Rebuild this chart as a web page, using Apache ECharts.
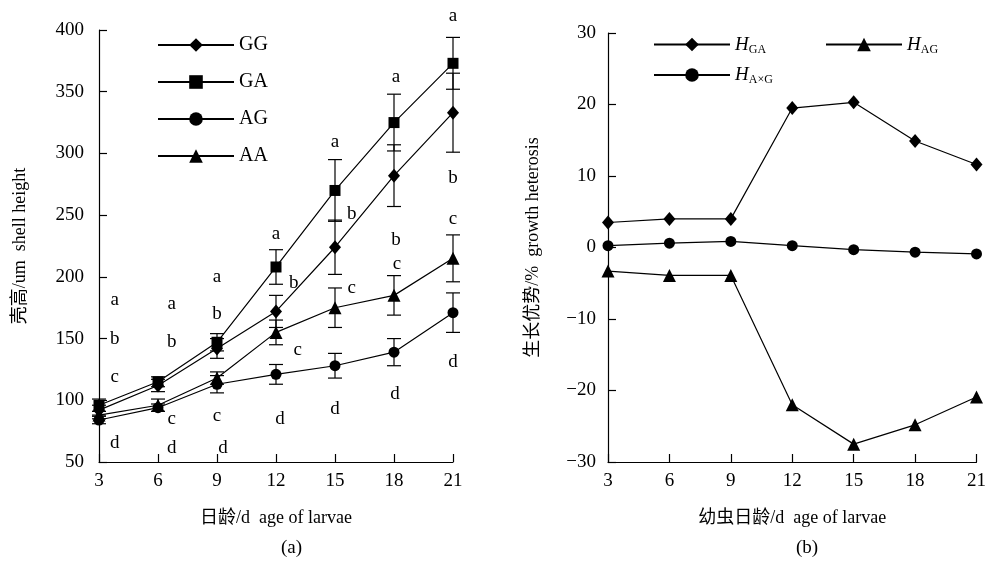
<!DOCTYPE html>
<html><head><meta charset="utf-8">
<script src="https://cdn.jsdelivr.net/npm/echarts@6/dist/echarts.min.js"></script>
<style>html,body{margin:0;padding:0;background:#fff}#c{width:989px;height:561px}</style>
</head><body><div id="c"></div>
<script>
const days = [3, 6, 9, 12, 15, 18, 21];
const GG = [92, 112, 142, 172, 224, 282, 333];
const GA = [96, 115, 147, 208, 270, 325, 373];
const AG = [84, 94, 113, 121, 128, 139, 171];
const AA = [88, 96, 118, 155, 175, 185, 215];
const errGG = [4, 5, 8, 13, 22, 25, 32];
const errGA = [5, 4, 7, 14, 25, 23, 21];
const errAG = [3, 3, 7, 8, 10, 11, 16];
const errAA = [3, 5, 5, 10, 16, 16, 19];
const HGA = [3.5, 4.0, 4.0, 19.5, 20.3, 14.9, 11.6];
const HAG = [-3.3, -3.9, -3.9, -22.0, -27.5, -24.8, -20.9];
const HAxG = [0.25, 0.6, 0.85, 0.25, -0.3, -0.65, -0.9];
const letterX = [3.8,3.8,3.8,3.8, 6.7,6.7,6.7,6.7, 9,9,9,9.3, 12,12.9,13.1,12.2, 15,15.85,15.85,15, 18.1,18.1,18.15,18.05, 21,21,21,21];
const letterY = [181,150,119,65, 178,147,85,61, 200,170,87,61, 235,195,141,85, 309,251,191,93, 362,230,210,105, 411,280,247,131];
const letterT = ['a','b','c','d','a','b','c','d','a','b','c','d','a','b','c','d','a','b','c','d','a','b','c','d','a','b','c','d'];
const yTicksLeft = [50, 400, 50];   // min, max, interval
const yTicksRight = [-30, 30, 10];

const FONT = "'Liberation Serif', 'Noto Sans CJK SC', serif";
const chart = echarts.init(document.getElementById('c'));
const zip = (a) => days.map((d, i) => [d, a[i]]);
const errData = (a, e) => days.map((d, i) => [d, a[i] - e[i], a[i] + e[i]]);

function errSeries(name, a, e) {
  return {
    type: 'custom', name: name + '_err', xAxisIndex: 0, yAxisIndex: 0, silent: true, z: 1,
    data: errData(a, e),
    renderItem: function (params, api) {
      const lo = api.coord([api.value(0), api.value(1)]);
      const hi = api.coord([api.value(0), api.value(2)]);
      const w = 7;
      const st = { stroke: '#000', lineWidth: 1.2 };
      return { type: 'group', children: [
        { type: 'line', shape: { x1: lo[0], y1: lo[1], x2: hi[0], y2: hi[1] }, style: st },
        { type: 'line', shape: { x1: lo[0] - w, y1: lo[1], x2: lo[0] + w, y2: lo[1] }, style: st },
        { type: 'line', shape: { x1: hi[0] - w, y1: hi[1], x2: hi[0] + w, y2: hi[1] }, style: st }
      ]};
    }
  };
}
function lineSeries(name, a, sym, size, xi) {
  return {
    type: 'line', name: name, data: zip(a), xAxisIndex: xi, yAxisIndex: xi,
    symbol: sym, symbolSize: size, showSymbol: true, z: 3,
    lineStyle: { color: '#000', width: 1.2 }, itemStyle: { color: '#000' },
    emphasis: { disabled: true }, animation: false
  };
}
const axisCommon = {
  axisLine: { show: true, onZero: false, lineStyle: { color: '#000', width: 1.2 } },
  axisTick: { show: true, inside: true, length: 8, lineStyle: { color: '#000', width: 1.2 } },
  splitLine: { show: false },
  axisLabel: { color: '#000', fontSize: 19, fontFamily: FONT },
  nameTextStyle: { color: '#000', fontSize: 18, fontFamily: FONT }
};
const minus = (v) => String(v).replace('-', '\u2212');
const subName = { HGA: '{i|H}{s|GA}', HAG: '{i|H}{s|AG}', HAxG: '{i|H}{s|A\u00d7G}' };
const richLeg = {
  i: { fontStyle: 'italic', fontSize: 19, fontFamily: FONT, color: '#000' },
  s: { fontSize: 12, fontFamily: FONT, color: '#000', padding: [10, 0, 0, 0] }
};

chart.setOption({
  animation: false,
  grid: [
    { left: 99, top: 30, width: 354, height: 432 },
    { left: 608, top: 33, width: 370, height: 429 }
  ],
  xAxis: [
    Object.assign({}, axisCommon, { type: 'value', gridIndex: 0, min: 3, max: 21, interval: 3,
      name: '日龄/d  age of larvae', nameLocation: 'middle', nameGap: 47,
      axisLabel: Object.assign({}, axisCommon.axisLabel, { margin: 10 }) }),
    Object.assign({}, axisCommon, { type: 'value', gridIndex: 1, min: 3, max: 21, interval: 3,
      name: '幼虫日龄/d  age of larvae', nameLocation: 'middle', nameGap: 47,
      axisLabel: Object.assign({}, axisCommon.axisLabel, { margin: 10 }) })
  ],
  yAxis: [
    Object.assign({}, axisCommon, { type: 'value', gridIndex: 0, min: yTicksLeft[0], max: yTicksLeft[1], interval: yTicksLeft[2],
      name: '壳高/um  shell height', nameLocation: 'middle', nameGap: 70,
      axisLabel: Object.assign({}, axisCommon.axisLabel, { margin: 15 }) }),
    Object.assign({}, axisCommon, { type: 'value', gridIndex: 1, min: yTicksRight[0], max: yTicksRight[1], interval: yTicksRight[2],
      name: '生长优势/%  growth heterosis', nameLocation: 'middle', nameGap: 66,
      axisLabel: Object.assign({}, axisCommon.axisLabel, { margin: 12, formatter: minus }) })
  ],
  legend: [
    { orient: 'vertical', left: 152, top: 30, itemWidth: 76, itemHeight: 17, itemGap: 17,
      data: ['GG', 'GA', 'AG', 'AA'], selectedMode: false,
      textStyle: { color: '#000', fontSize: 20, fontFamily: FONT } },
    { orient: 'vertical', left: 648, top: 30, itemWidth: 76, itemHeight: 17, itemGap: 10,
      data: ['HGA', 'HAxG'], selectedMode: false, formatter: (n) => subName[n],
      textStyle: { color: '#000', fontSize: 19, fontFamily: FONT, rich: richLeg } },
    { orient: 'vertical', left: 820, top: 30, itemWidth: 76, itemHeight: 17, itemGap: 10,
      data: ['HAG'], selectedMode: false, formatter: (n) => subName[n],
      textStyle: { color: '#000', fontSize: 19, fontFamily: FONT, rich: richLeg } }
  ],
  graphic: [
    { type: 'text', left: 281, top: 539, style: { text: '(a)', fontSize: 19, fontFamily: FONT, fill: '#000' } },
    { type: 'text', left: 796, top: 539, style: { text: '(b)', fontSize: 19, fontFamily: FONT, fill: '#000' } }
  ],
  series: [
    errSeries('GG', GG, errGG), errSeries('GA', GA, errGA), errSeries('AG', AG, errAG), errSeries('AA', AA, errAA),
    lineSeries('GG', GG, 'diamond', [12, 14], 0),
    lineSeries('GA', GA, 'rect', 11, 0),
    lineSeries('AG', AG, 'circle', 11, 0),
    lineSeries('AA', AA, 'triangle', 13, 0),
    {
      type: 'custom', name: 'letters', xAxisIndex: 0, yAxisIndex: 0, silent: true, z: 4, clip: false,
      data: letterX.map((x, i) => [x, letterY[i], i]),
      renderItem: function (params, api) {
        const p = api.coord([api.value(0), api.value(1)]);
        return { type: 'text', x: p[0], y: p[1], style: {
          text: letterT[api.value(2)], fill: '#000', fontSize: 19, fontFamily: FONT,
          align: 'center', verticalAlign: 'middle' } };
      }
    },
    lineSeries('HGA', HGA, 'diamond', [12, 14], 1),
    lineSeries('HAG', HAG, 'triangle', 13, 1),
    lineSeries('HAxG', HAxG, 'circle', 11, 1)
  ]
});
</script></body></html>
